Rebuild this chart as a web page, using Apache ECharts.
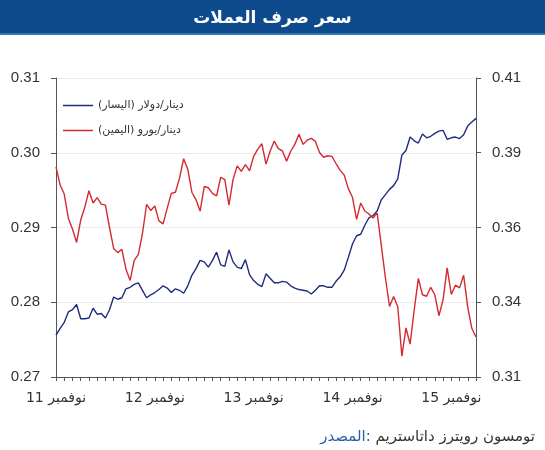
<!DOCTYPE html>
<html>
<head>
<meta charset="utf-8">
<script src="https://cdn.jsdelivr.net/npm/echarts@6/dist/echarts.min.js"></script>
<style>
  html, body { margin: 0; padding: 0; background: #fff; }
  #chart { width: 545px; height: 450px; }
</style>
</head>
<body>
<div id="chart"></div>
<script>
// نقاط كل نصف شهر من نوفمبر 2011 إلى أواخر يناير 2016
const yearLabels = ['نوفمبر 11', 'نوفمبر 12', 'نوفمبر 13', 'نوفمبر 14', 'نوفمبر 15']
const rightTickLabels = ['0.31', '0.34', '0.36', '0.39', '0.41']

// دينار/دولار (اليسار)
const usdValues = [
  0.2756, 0.2765, 0.2773, 0.2787, 0.2790, 0.2797, 0.2778, 0.2778, 0.2779, 0.2792,
  0.2784, 0.2785, 0.2779, 0.2790, 0.2807, 0.2804, 0.2806, 0.2818, 0.2820, 0.2824,
  0.2826, 0.2816, 0.2806, 0.2810, 0.2813, 0.2817, 0.2822, 0.2819, 0.2813, 0.2818,
  0.2816, 0.2812, 0.2822, 0.2836, 0.2845, 0.2856, 0.2854, 0.2847, 0.2856, 0.2867,
  0.2850, 0.2848, 0.2870, 0.2854, 0.2847, 0.2845, 0.2857, 0.2837, 0.2829, 0.2824,
  0.2821, 0.2838, 0.2832, 0.2826, 0.2826, 0.2828, 0.2827, 0.2822, 0.2819, 0.2817,
  0.2816, 0.2815, 0.2811, 0.2816, 0.2822, 0.2822, 0.2820, 0.2820, 0.2828, 0.2834,
  0.2843, 0.2860, 0.2878, 0.2889, 0.2891, 0.2903, 0.2913, 0.2916, 0.2922, 0.2937,
  0.2944, 0.2951, 0.2956, 0.2965, 0.2997, 0.3003, 0.3021, 0.3016, 0.3013, 0.3025,
  0.3020, 0.3022, 0.3026, 0.3029, 0.3030, 0.3018, 0.3020, 0.3021, 0.3019, 0.3024,
  0.3036, 0.3041, 0.3046
]

// دينار/يورو (اليمين)
const eurValues = [
  0.3803, 0.3742, 0.3712, 0.3631, 0.3595, 0.3550, 0.3625, 0.3668, 0.3723, 0.3682,
  0.3700, 0.3678, 0.3675, 0.3600, 0.3530, 0.3516, 0.3527, 0.3460, 0.3423, 0.3490,
  0.3510, 0.3580, 0.3677, 0.3657, 0.3672, 0.3622, 0.3612, 0.3664, 0.3714, 0.3718,
  0.3765, 0.3830, 0.3795, 0.3718, 0.3693, 0.3655, 0.3737, 0.3733, 0.3714, 0.3706,
  0.3768, 0.3760, 0.3675, 0.3760, 0.3806, 0.3788, 0.3810, 0.3790, 0.3838, 0.3862,
  0.3880, 0.3812, 0.3855, 0.3889, 0.3864, 0.3856, 0.3822, 0.3855, 0.3878, 0.3912,
  0.3878, 0.3892, 0.3898, 0.3888, 0.3851, 0.3835, 0.3840, 0.3838, 0.3814, 0.3792,
  0.3775, 0.3730, 0.3701, 0.3627, 0.3682, 0.3655, 0.3645, 0.3632, 0.3648, 0.3540,
  0.3432, 0.3336, 0.3369, 0.3335, 0.3170, 0.3264, 0.3210, 0.3325, 0.3430, 0.3375,
  0.3370, 0.3400, 0.3375, 0.3305, 0.3358, 0.3465, 0.3376, 0.3407, 0.3398, 0.3440,
  0.3333, 0.3262, 0.3234
]

const categories = usdValues.map((_, i) => 'p' + i)

const chart = echarts.init(document.getElementById('chart'))

const axisColor = '#555'
const labelStyle = { color: '#333', fontSize: 15, fontFamily: 'Liberation Sans, Arial, sans-serif' }

chart.setOption({
  animation: false,
  backgroundColor: '#fff',
  graphic: [
    { type: 'rect', z: 0, shape: { x: 0, y: 0, width: 545, height: 33 }, style: { fill: '#0e4b8d' } },
    { type: 'rect', z: 0, shape: { x: 0, y: 33, width: 545, height: 2 }, style: { fill: '#3a75b5' } },
    {
      type: 'text',
      right: 10,
      top: 430,
      style: {
        text: '{a|المصدر:}{b| تومسون رويترز داتاستريم}',
        rich: {
          a: { fill: '#2a5ea8', fontSize: 15, fontFamily: 'DejaVu Sans' },
          b: { fill: '#333', fontSize: 15, fontFamily: 'DejaVu Sans' }
        }
      }
    }
  ],
  title: {
    text: 'سعر صرف العملات',
    left: 'center',
    top: 5,
    z: 10,
    textStyle: { color: '#fff', fontSize: 17, fontWeight: 'bold', fontFamily: 'DejaVu Sans' }
  },
  legend: {
    orient: 'vertical',
    left: 58,
    top: 95,
    icon: 'rect',
    itemWidth: 30,
    itemHeight: 1.5,
    itemGap: 14,
    textStyle: { color: '#333', fontSize: 11, fontFamily: 'DejaVu Sans' }
  },
  grid: { left: 56, right: 69, top: 78, bottom: 73 },
  xAxis: {
    type: 'category',
    data: categories,
    boundaryGap: false,
    axisLine: { lineStyle: { color: axisColor } },
    axisTick: { length: 4, interval: (i) => i % 2 === 0, lineStyle: { color: axisColor } },
    axisLabel: {
      interval: (i) => i % 24 === 0,
      margin: 14,
      color: '#333',
      fontSize: 14,
      fontFamily: 'DejaVu Sans',
      formatter: (v, i) => yearLabels[i / 24]
    },
    splitLine: { show: false }
  },
  yAxis: [
    {
      type: 'value',
      min: 0.27,
      max: 0.31,
      interval: 0.01,
      axisLine: { show: true, lineStyle: { color: axisColor } },
      axisTick: { show: true, length: 5, lineStyle: { color: axisColor } },
      axisLabel: { ...labelStyle, margin: 16, formatter: (v) => v.toFixed(2) },
      splitLine: { lineStyle: { color: '#ececec' } }
    },
    {
      type: 'value',
      min: 0.31,
      max: 0.41,
      interval: 0.025,
      position: 'right',
      axisLine: { show: true, lineStyle: { color: axisColor } },
      axisTick: { show: true, length: 5, lineStyle: { color: axisColor } },
      axisLabel: { ...labelStyle, margin: 16, formatter: (v) => rightTickLabels[Math.round((v - 0.31) / 0.025)] },
      splitLine: { show: false }
    }
  ],
  series: [
    {
      name: 'دينار/دولار (اليسار)',
      type: 'line',
      yAxisIndex: 0,
      data: usdValues,
      showSymbol: false,
      itemStyle: { color: '#1f2c7c' },
      lineStyle: { color: '#1f2c7c', width: 1.4 }
    },
    {
      name: 'دينار/يورو (اليمين)',
      type: 'line',
      yAxisIndex: 1,
      data: eurValues,
      showSymbol: false,
      itemStyle: { color: '#d42a2f' },
      lineStyle: { color: '#d42a2f', width: 1.4 }
    }
  ]
})
</script>
</body>
</html>
